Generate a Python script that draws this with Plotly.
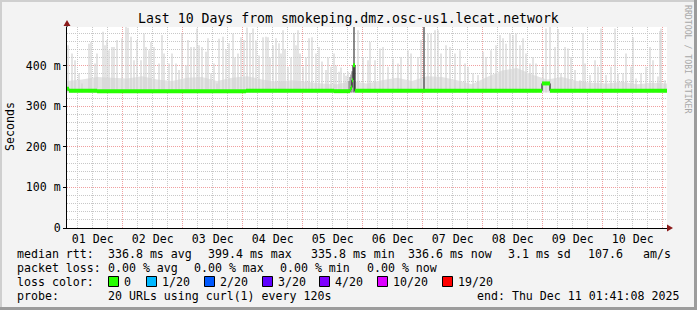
import plotly.graph_objects as go
from datetime import datetime, timedelta

START = datetime(2025, 12, 1, 1, 41, 8)
END = datetime(2025, 12, 11, 1, 41, 8)

# ---------------- data ----------------
smoke_hours = [0.4, 2.0, 3.2, 4.8, 6.0, 8.8, 9.6, 11.2, 12.0, 14.4, 15.2, 16.0, 16.8, 18.0, 18.8, 20.0,
               22.0, 23.6, 24.4, 25.6, 26.8, 28.0, 29.6, 30.8, 31.6, 32.8, 33.6, 34.8, 36.8, 38.0, 38.8,
               40.8, 42.0, 43.6, 44.8, 46.0, 47.6, 48.4, 49.6, 50.8, 52.0, 52.8, 54.0, 55.6, 56.4, 57.6,
               58.8, 60.0, 60.8, 62.4, 63.6, 64.8, 66.4, 67.2, 68.4, 69.6, 70.8, 72.0, 73.2, 74.4, 75.6,
               76.8, 78.4, 79.6, 80.4, 81.2, 82.4, 83.6, 84.8, 85.6, 86.4, 87.2, 88.4, 89.6, 90.8, 91.6,
               92.4, 93.2, 94.4, 95.6, 96.8, 98.0, 99.6, 100.8, 102.0, 103.6, 104.4, 105.6, 106.8, 107.6,
               108.8, 109.6, 110.8, 111.6, 112.4, 116.4, 118.4, 120.4, 121.2, 123.2, 125.2, 126.4, 128.4,
               130.4, 132.4, 133.6, 136.4, 137.6, 140.4, 141.6, 144.4, 145.6, 147.2, 148.4, 149.6, 151.6,
               153.2, 155.2, 157.2, 159.2, 160.4, 162.4, 164.4, 166.4, 167.6, 169.6, 171.6, 173.2, 174.4,
               175.6, 177.2, 178.4, 179.6, 181.2, 182.4, 183.6, 185.2, 186.4, 187.6, 190.4, 191.6, 193.2,
               195.2, 196.4, 197.6, 199.2, 200.4, 201.6, 203.2, 205.2, 206.4, 207.2, 209.2, 211.2, 212.4,
               213.6, 215.6, 217.6, 219.2, 220.4, 222.4, 223.6, 225.6, 226.4, 227.6, 229.6, 231.6, 233.2,
               234.4, 236.4, 237.2, 237.6, 239.2]
smoke_top = [450, 430, 413, 381, 356, 454, 458, 405, 430, 483, 450, 463, 438, 446, 446, 463,
             467, 495, 493, 471, 413, 463, 413, 479, 446, 438, 458, 446, 405, 475, 430,
             405, 430, 405, 389, 479, 401, 463, 446, 446, 491, 450, 446, 434, 467, 381,
             405, 356, 466, 471, 440, 455, 479, 420, 430, 470, 463, 494, 480, 491, 462,
             425, 470, 471, 470, 420, 450, 467, 455, 430, 487, 440, 397, 420, 479, 450,
             487, 430, 397, 420, 467, 470, 430, 446, 410, 389, 420, 397, 430, 400,
             385, 395, 381, 375, 385, 487, 421, 413, 458, 413, 442, 446, 397,
             417, 405, 421, 438, 430, 421, 463, 479, 479, 487, 487, 430, 450,
             446, 430, 438, 405, 397, 381, 377, 434, 421, 438, 450, 475, 467,
             454, 479, 475, 479, 450, 467, 430, 405, 421, 405, 397, 491, 495,
             446, 490, 381, 446, 442, 421, 389, 364, 480, 405, 377, 413, 397,
             491, 377, 397, 491, 381, 381, 430, 397, 470, 368, 381, 397, 446,
             413, 373, 485, 491, 364]

haze_hours = [0, 6, 12, 18, 24, 30, 36, 42, 48, 54, 60, 66, 72, 78, 84, 90, 96, 102, 108, 114,
              120, 126, 132, 138, 144, 150, 156, 162, 168, 174, 180, 186, 192, 198, 204, 210, 216,
              222, 228, 234, 240]
haze_top = [362, 366, 372, 370, 368, 374, 366, 362, 370, 372, 362, 370, 374, 366, 360, 364, 360,
            356, 354, 362, 356, 364, 370, 362, 374, 372, 364, 354, 372, 388, 394, 378, 366, 372,
            362, 358, 356, 360, 354, 358, 356]

dark_hours = [112.8, 113.2, 113.6, 114.0]
dark_top = [362, 372, 378, 386]

outlier_hours = [114.8, 142.8]
outlier_top = [500, 500]

median_hours = [0, 0.8, 12.0, 71.6, 106.8, 113.2, 113.6, 114.0, 114.4, 115.2, 190.0, 193.2, 240]
median_vals = [343, 338, 337, 338, 337, 341, 346, 364, 401, 338, 356, 338, 338]

y_tickvals = [0, 100, 200, 300, 400]
y_ticktext = ["0", "100 m", "200 m", "300 m", "400 m"]

title_text = "Last 10 Days from smokeping.dmz.osc-us1.lecat.network"
rtt_labels = ["median rtt:", "336.8 ms avg", "399.4 ms max", "335.8 ms min", "336.6 ms now",
              "3.1 ms sd", "107.6", "am/s"]
loss_labels = ["packet loss:", "0.00 % avg", "0.00 % max", "0.00 % min", "0.00 % now"]
color_names = ["0", "1/20", "2/20", "3/20", "4/20", "10/20", "19/20"]
color_values = ["#26ff00", "#00b8ff", "#0059ff", "#5e00ff", "#7e00ff", "#dd00ff", "#ff0000"]
probe_labels = ["probe:", "20 URLs using curl(1) every 120s", "end: Thu Dec 11 01:41:08 2025"]

# ---------------- layout helpers ----------------
W, H = 697, 310
L, R, T, B = 67, 30, 27, 82
PW, PH = W - L - R, H - T - B
FONT = "DejaVu Sans Mono"
Y_MAX = 495
BASE = 334


def px(x):
    return (x - L) / PW


def py(y):
    return (T + PH - y) / PH


def t(h):
    return START + timedelta(hours=h)


fig = go.Figure()

# haze (dense smoke near the median)
fig.add_trace(go.Scatter(x=[t(h) for h in haze_hours], y=[BASE] * len(haze_hours), mode="lines",
                         line=dict(width=0, color="rgba(0,0,0,0)"), hoverinfo="skip", showlegend=False))
fig.add_trace(go.Scatter(x=[t(h) for h in haze_hours], y=haze_top, mode="lines", fill="tonexty",
                         fillcolor="#e4e4e4", line=dict(width=0, color="rgba(0,0,0,0)"),
                         hoverinfo="skip", showlegend=False))

# smoke spikes
sx, sy = [], []
for h, v in zip(smoke_hours, smoke_top):
    sx += [t(h), t(h), None]
    sy += [BASE, v, None]
fig.add_trace(go.Scatter(x=sx, y=sy, mode="lines", line=dict(width=1.2, color="#d2d2d2"),
                         hoverinfo="skip", showlegend=False))

# darker smoke
dx, dy = [], []
for h, v in zip(dark_hours, dark_top):
    dx += [t(h), t(h), None]
    dy += [BASE, v, None]
fig.add_trace(go.Scatter(x=dx, y=dy, mode="lines", line=dict(width=1.2, color="#8a8a8a"),
                         hoverinfo="skip", showlegend=False))

# outliers (dark lines to the top)
ox, oy = [], []
for h, v in zip(outlier_hours, outlier_top):
    ox += [t(h), t(h), None]
    oy += [BASE, v, None]
fig.add_trace(go.Scatter(x=ox, y=oy, mode="lines", line=dict(width=1.2, color="#3c3c3c"),
                         hoverinfo="skip", showlegend=False))

# median: black step line underneath, green horizontal segments on top
fig.add_trace(go.Scatter(x=[t(h) for h in median_hours], y=median_vals, mode="lines",
                         line=dict(width=1, color="#000000", shape="hv"), hoverinfo="skip",
                         showlegend=False))
gx, gy = [], []
for i in range(len(median_hours) - 1):
    gx += [t(median_hours[i]), t(median_hours[i + 1]), None]
    gy += [median_vals[i], median_vals[i], None]
fig.add_trace(go.Scatter(x=gx, y=gy, mode="lines", line=dict(width=4, color="#26ff00"),
                         hoverinfo="skip", showlegend=False))

grid_minor = "#c8c8c8"
grid_major = "#f0a0a0"

fig.update_layout(
    width=W, height=H,
    margin=dict(l=L, r=R, t=T, b=B, pad=0),
    paper_bgcolor="#f3f3f3",
    plot_bgcolor="#ffffff",
    font=dict(family=FONT, size=11.6, color="#000000"),
    showlegend=False,
    xaxis=dict(
        type="date", range=[START, END],
        tick0="2025-12-01", dtick=86400000, tickformat="%d %b", ticklabelmode="period",
        showgrid=True, gridcolor=grid_major, griddash="1px,1px", gridwidth=1,
        ticks="", showline=True, linecolor="#000000", linewidth=1,
        tickfont=dict(family=FONT, size=11.6, color="#000000"),
        minor=dict(dtick=21600000, tick0="2025-12-01", showgrid=True, gridcolor=grid_minor,
                   griddash="1px,1px", gridwidth=1),
        zeroline=False, fixedrange=True,
    ),
    yaxis=dict(
        range=[0, Y_MAX], tickvals=y_tickvals, ticktext=y_ticktext,
        showgrid=True, gridcolor=grid_major, griddash="1px,1px", gridwidth=1,
        ticks="outside", ticklen=3, tickcolor="#000000",
        showline=True, linecolor="#000000", linewidth=1,
        tickfont=dict(family=FONT, size=11.6, color="#000000"),
        minor=dict(dtick=20, tick0=0, showgrid=True, gridcolor=grid_minor, griddash="1px,1px",
                   gridwidth=1),
        zeroline=False, fixedrange=True,
    ),
)

shapes = []
# frame
shapes.append(dict(type="line", xref="paper", yref="paper", x0=px(0), x1=px(W), y0=py(1), y1=py(1),
                   line=dict(color="#cfcfcf", width=2)))
shapes.append(dict(type="line", xref="paper", yref="paper", x0=px(1), x1=px(1), y0=py(0), y1=py(H),
                   line=dict(color="#cfcfcf", width=2)))
shapes.append(dict(type="line", xref="paper", yref="paper", x0=px(0), x1=px(W), y0=py(H - 1.5),
                   y1=py(H - 1.5), line=dict(color="#9c9c9c", width=3)))
shapes.append(dict(type="line", xref="paper", yref="paper", x0=px(W - 1.5), x1=px(W - 1.5), y0=py(0),
                   y1=py(H), line=dict(color="#9c9c9c", width=3)))
# axis extensions and arrows
shapes.append(dict(type="line", xref="paper", yref="paper", x0=px(L), x1=px(L), y0=py(T), y1=py(22),
                   line=dict(color="#000000", width=1)))
shapes.append(dict(type="line", xref="paper", yref="paper", x0=px(L + PW), x1=px(670), y0=py(T + PH),
                   y1=py(T + PH), line=dict(color="#000000", width=1)))
shapes.append(dict(type="path", xref="paper", yref="paper",
                   path=f"M {px(L - 3.5)} {py(26)} L {px(L + 3.5)} {py(26)} L {px(L)} {py(20)} Z",
                   fillcolor="#8b1a1a", line=dict(width=0)))
shapes.append(dict(type="path", xref="paper", yref="paper",
                   path=f"M {px(667)} {py(224.5)} L {px(667)} {py(231.5)} L {px(673)} {py(228)} Z",
                   fillcolor="#8b1a1a", line=dict(width=0)))
# loss colour boxes
box_x = [108, 146, 204, 262, 319, 377, 442]
for bx, col in zip(box_x, color_values):
    shapes.append(dict(type="rect", xref="paper", yref="paper", x0=px(bx + 0.5), x1=px(bx + 10.5),
                       y0=py(276.5), y1=py(286.5), fillcolor=col, line=dict(color="#000000", width=1)))
fig.update_layout(shapes=shapes)

ann = []


def text(x, y, s, anchor="left", size=11.6, color="#000000", angle=0):
    ann.append(dict(xref="paper", yref="paper", x=px(x), y=py(y), text=s, showarrow=False,
                    xanchor=anchor, yanchor="middle", textangle=angle, borderpad=0,
                    font=dict(family=FONT, size=size, color=color)))


text(348, 19, title_text, anchor="center", size=13.2)
text(10, 127, "Seconds", anchor="center", angle=-90)
text(688, 59, "RRDTOOL / TOBI OETIKER", anchor="center", size=8.2, color="#a8a8a8", angle=90)

rtt_x = [16, 107, 207, 310, 407, 507, 587, 642]
for x, s in zip(rtt_x, rtt_labels):
    text(x, 254, s)
loss_x = [16, 107, 193, 279, 366]
for x, s in zip(loss_x, loss_labels):
    text(x, 268, s)
text(16, 282, "loss color:")
for bx, s in zip(box_x, color_names):
    text(bx + 15, 282, s)
text(16, 296, probe_labels[0])
text(107, 296, probe_labels[1])
text(680, 296, probe_labels[2], anchor="right")

fig.update_layout(annotations=ann)

fig.write_html("out.html")
